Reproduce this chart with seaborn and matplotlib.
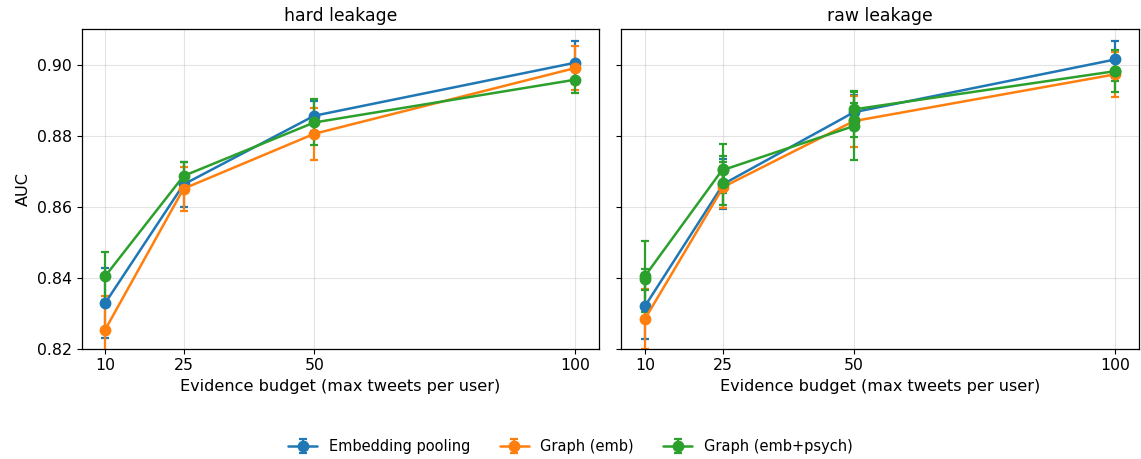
import matplotlib
matplotlib.use("Agg")
from matplotlib import pyplot as plt
import numpy as np
import pandas as pd
import seaborn as sns

# values
budgets = [10, 25, 50, 100]
methods = ["Embedding pooling", "Graph (emb)", "Graph (emb+psych)"]

hard_emb_auc = [0.8329, 0.8664, 0.8858, 0.9008]
hard_emb_sd = [0.0099, 0.0063, 0.0042, 0.0060]
hard_graph_auc = [0.8254, 0.8652, 0.8807, 0.8993]
hard_graph_sd = [0.0095, 0.0062, 0.0074, 0.0062]
hard_psych_auc = [0.8405, 0.8688, 0.8839, 0.8960]
hard_psych_sd = [0.0068, 0.0038, 0.0065, 0.0038]

raw_emb_auc = [0.8320, 0.8665, 0.8868, 0.9017]
raw_emb_sd = [0.0094, 0.0070, 0.0050, 0.0052]
raw_graph_auc = [0.8284, 0.8657, 0.8843, 0.8975]
raw_graph_sd = [0.0085, 0.0060, 0.0072, 0.0064]
# the raw panel has several rows per budget for emb+psych
raw_psych_budget = [10, 10, 25, 25, 25, 50, 50, 50, 100, 100]
raw_psych_auc = [0.8396, 0.8405, 0.8709, 0.8667, 0.8705, 0.8829, 0.8846, 0.8876, 0.8984, 0.8984]
raw_psych_sd = [0.0030, 0.0100, 0.0069, 0.0061, 0.0040, 0.0096, 0.0049, 0.0052, 0.0060, 0.0027]


def make_frame(leakage, rows):
    """
    build a long dataframe for one panel
    """
    parts = []
    for method, x, y, e in rows:
        parts.append(pd.DataFrame({"leakage": leakage, "method": method,
                                   "budget": x, "auc": y, "sd": e}))
    return pd.concat(parts, ignore_index=True)


df = pd.concat([
    make_frame("hard leakage", [
        (methods[0], budgets, hard_emb_auc, hard_emb_sd),
        (methods[1], budgets, hard_graph_auc, hard_graph_sd),
        (methods[2], budgets, hard_psych_auc, hard_psych_sd),
    ]),
    make_frame("raw leakage", [
        (methods[0], budgets, raw_emb_auc, raw_emb_sd),
        (methods[1], budgets, raw_graph_auc, raw_graph_sd),
        (methods[2], raw_psych_budget, raw_psych_auc, raw_psych_sd),
    ]),
], ignore_index=True)

sns.set_style("ticks")
plt.rcParams["font.family"] = ["DejaVu Sans"]
plt.rcParams["font.size"] = 11.5
plt.rcParams["text.color"] = "black"
plt.rcParams["axes.labelcolor"] = "black"
palette = dict(zip(methods, sns.color_palette("tab10", 3)))

fig, axes = plt.subplots(1, 2, figsize=(11.41, 4.59), dpi=100, sharey=True)
fig.subplots_adjust(left=0.0716, right=0.998, top=0.936, bottom=0.2403, wspace=0.0433)

for ax, leakage in zip(axes, ["hard leakage", "raw leakage"]):
    sub = df[df["leakage"] == leakage]
    for method in methods:
        m = sub[sub["method"] == method]
        ax.errorbar(m["budget"], m["auc"], yerr=m["sd"], fmt="-o", color=palette[method],
                    lw=1.8, ms=7.5, capsize=3.2, elinewidth=1.6, capthick=1.6, label=method)
    ax.set_title(leakage, fontsize=12.4, color="black")
    ax.set_xticks(budgets)
    ax.set_xlabel("Evidence budget (max tweets per user)", fontsize=11.6)
    ax.grid(True, color="#b0b0b0", alpha=0.35)
    ax.tick_params(labelsize=11.3, colors="black")
    for s in ax.spines.values():
        s.set_color("black")
        s.set_linewidth(0.9)

axes[0].set_ylabel("AUC", fontsize=11.6)
axes[0].set_ylim(0.82, 0.9102)
axes[0].set_yticks([0.82, 0.84, 0.86, 0.88, 0.90])

handles, labels = axes[0].get_legend_handles_labels()
fig.legend(handles, labels, loc="lower center", ncol=3, frameon=False,
           fontsize=10.5, bbox_to_anchor=(0.5, -0.018))

fig.savefig("out.png", dpi=100)
